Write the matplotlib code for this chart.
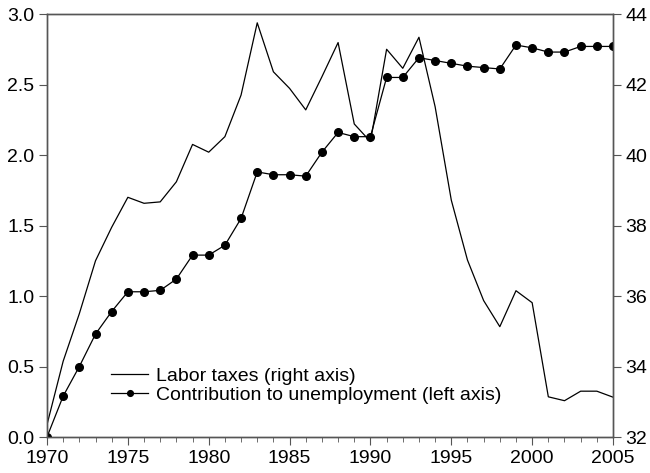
import matplotlib.pyplot as plt

plt.rcParams['font.family'] = "Liberation Sans"
plt.rcParams['font.size'] = 14

years = list(range(1970, 2006))

# contribution to unemployment (left axis)
contribution = [0.00, 0.29, 0.50, 0.73, 0.89, 1.03, 1.03, 1.04, 1.12, 1.29,
                1.29, 1.36, 1.55, 1.88, 1.86, 1.86, 1.85, 2.02, 2.16, 2.13,
                2.13, 2.55, 2.55, 2.69, 2.67, 2.65, 2.63, 2.62, 2.61, 2.78,
                2.76, 2.73, 2.73, 2.77, 2.77, 2.77]

# labor taxes (right axis)
labor_taxes = [32.35, 34.15, 35.5, 37.0, 37.95, 38.8, 38.63, 38.67, 39.24, 40.3,
               40.08, 40.52, 41.7, 43.75, 42.36, 41.89, 41.28, 42.22, 43.19, 40.88,
               40.38, 43.0, 42.46, 43.34, 41.37, 38.72, 37.02, 35.87, 35.13, 36.15,
               35.81, 33.14, 33.03, 33.3, 33.3, 33.13]

spine_col = "#555555"

fig = plt.figure(figsize=(6.5, 4.73), dpi=100)
ax = fig.add_axes([0.0723, 0.0761, 0.8708, 0.8943])
ax2 = ax.twinx()

l1, = ax2.plot(years, labor_taxes, color="k", lw=0.9,
               label="Labor taxes (right axis)")
l2, = ax.plot(years, contribution, color="k", lw=0.9, marker="o", ms=5.5,
              label="Contribution to unemployment (left axis)")
ax.set_zorder(ax2.get_zorder() + 1)
ax.patch.set_visible(False)

ax.set_xlim(1970, 2005)
ax.set_ylim(0, 3)
ax2.set_ylim(32, 44)
ax.set_xticks(range(1970, 2006, 5))
ax.set_xticks(years, minor=True)
ax.set_yticks([0, 0.5, 1.0, 1.5, 2.0, 2.5, 3.0])
ax.set_yticklabels(["0.0", "0.5", "1.0", "1.5", "2.0", "2.5", "3.0"])
ax2.set_yticks(range(32, 45, 2))

for a in (ax, ax2):
    for s in a.spines.values():
        s.set_color(spine_col)
        s.set_linewidth(1)
    a.tick_params(which="both", direction="out", color=spine_col, labelsize=14)
    a.tick_params(axis="y", length=6, pad=3)
ax.tick_params(axis="x", which="major", length=6, pad=3)
ax.tick_params(axis="x", which="minor", length=3.6)

ax.legend(handles=[l1, l2], loc="lower left", frameon=False,
          bbox_to_anchor=(0.1, 0.06), handlelength=1.9, handletextpad=0.4,
          labelspacing=0.05, fontsize=14, borderaxespad=0, markerscale=0.75)

fig.savefig("out.png", dpi=100)
